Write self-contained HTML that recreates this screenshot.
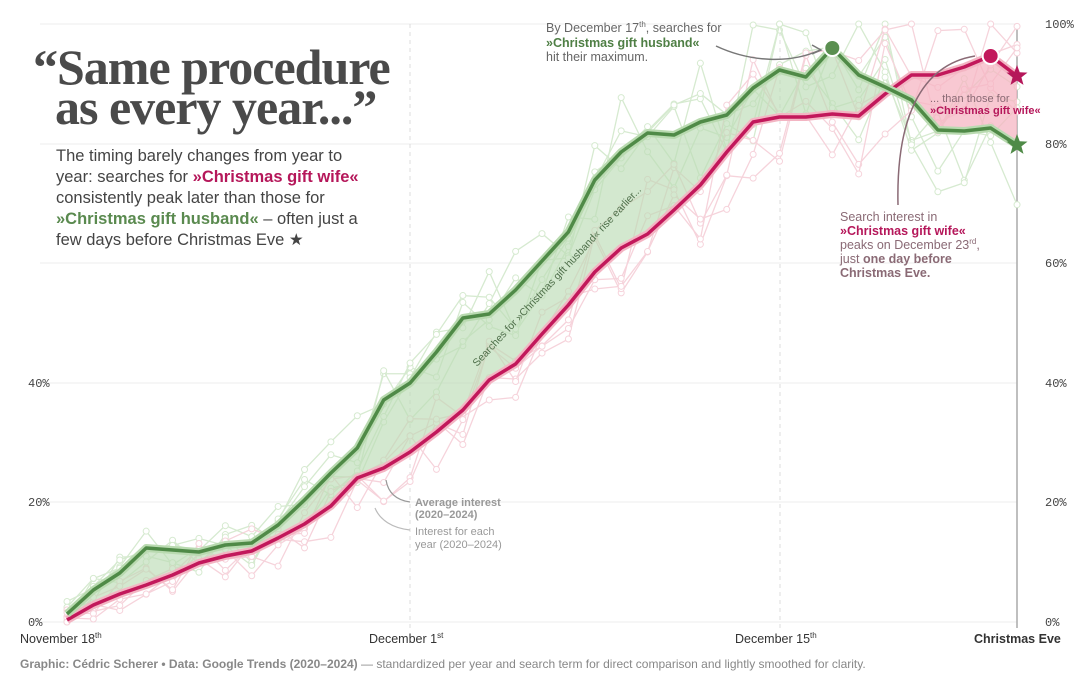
<!DOCTYPE html>
<html><head><meta charset="utf-8"><style>
body{margin:0;background:#fff;}
svg text{font-family:"Liberation Sans",sans-serif;}
</style></head><body>
<svg id="s" width="1080" height="683" viewBox="0 0 1080 683" xmlns="http://www.w3.org/2000/svg">
<rect width="1080" height="683" fill="#fff"/>
<g stroke="#ececec" stroke-width="1">
<line x1="40" x2="1017" y1="24" y2="24"/><line x1="40" x2="1017" y1="144" y2="144"/><line x1="40" x2="1017" y1="263" y2="263"/><line x1="40" x2="1017" y1="383" y2="383"/><line x1="40" x2="1017" y1="502" y2="502"/><line x1="40" x2="1017" y1="622" y2="622"/>
</g>
<g stroke="#ddd" stroke-dasharray="4 4"><line x1="410" x2="410" y1="24" y2="628"/><line x1="780" x2="780" y1="24" y2="628"/></g>
<line x1="1017" x2="1017" y1="24" y2="628" stroke="#aaa" stroke-width="1.5"/>
<g id="bg"></g>
<g id="fill"></g>
<g id="lines"></g>
<g font-size="12" fill="#444">
<text x="1045" y="28" style="font-family:'Liberation Mono',monospace">100%</text>
<text x="1045" y="148" style="font-family:'Liberation Mono',monospace">80%</text>
<text x="1045" y="267" style="font-family:'Liberation Mono',monospace">60%</text>
<text x="1045" y="387" style="font-family:'Liberation Mono',monospace">40%</text>
<text x="1045" y="506" style="font-family:'Liberation Mono',monospace">20%</text>
<text x="1045" y="626" style="font-family:'Liberation Mono',monospace">0%</text>
<text x="28" y="387" style="font-family:'Liberation Mono',monospace">40%</text>
<text x="28" y="506" style="font-family:'Liberation Mono',monospace">20%</text>
<text x="28" y="626" style="font-family:'Liberation Mono',monospace">0%</text>
</g>
<g font-size="12.5" fill="#333">
<text x="20" y="643">November 18<tspan font-size="8" dy="-5">th</tspan></text>
<text x="369" y="643">December 1<tspan font-size="8" dy="-5">st</tspan></text>
<text x="735" y="643">December 15<tspan font-size="8" dy="-5">th</tspan></text>
<text x="974" y="643" font-weight="bold">Christmas Eve</text>
</g>
<text x="20" y="668" font-size="12" fill="#888"><tspan font-weight="bold">Graphic: Cédric Scherer  •  Data: Google Trends (2020–2024)</tspan> — standardized per year and search term for direct comparison and lightly smoothed for clarity.</text>
<text x="33" y="84" font-size="50" font-weight="bold" fill="#4a4a4a" style="font-family:'Liberation Serif',serif;letter-spacing:-1px">“Same procedure</text>
<text x="55" y="124" font-size="50" font-weight="bold" fill="#4a4a4a" style="font-family:'Liberation Serif',serif;letter-spacing:-1px">as every year...”</text>
<g font-size="16.5" fill="#444">
<text x="56" y="161">The timing barely changes from year to</text>
<text x="56" y="182">year: searches for <tspan fill="#b5175a" font-weight="bold">»Christmas gift wife«</tspan></text>
<text x="56" y="203">consistently peak later than those for</text>
<text x="56" y="224"><tspan fill="#5a8a4f" font-weight="bold">»Christmas gift husband«</tspan> – often just a</text>
<text x="56" y="245">few days before Christmas Eve ★</text>
</g>
<g font-size="12.5" fill="#666">
<text x="546" y="32">By December 17<tspan font-size="8" dy="-5">th</tspan><tspan dy="5">, searches for</tspan></text>
<text x="546" y="47" fill="#4f7f45" font-weight="bold">»Christmas gift husband«</text>
<text x="546" y="61">hit their maximum.</text>
</g>
<path d="M716 46 C750 62 790 64 820 50" fill="none" stroke="#777" stroke-width="1.5"/>
<path d="M812 45 L821 50 L812 54" fill="none" stroke="#777" stroke-width="1.5"/>
<path d="M898 205 C896 120 920 65 975 56" fill="none" stroke="#8a6a75" stroke-width="1.5"/>
<g font-size="11" fill="#8a6a75"><text x="930" y="102">... than those for</text><text x="930" y="114" fill="#b5175a" font-weight="bold">»Christmas gift wife«</text></g>
<g font-size="12.5" fill="#8a6a75">
<text x="840" y="221">Search interest in</text>
<text x="840" y="235" fill="#b5175a" font-weight="bold">»Christmas gift wife«</text>
<text x="840" y="249">peaks on December 23<tspan font-size="8" dy="-5">rd</tspan><tspan dy="5">,</tspan></text>
<text x="840" y="263">just <tspan font-weight="bold">one day before</tspan></text>
<text x="840" y="277" font-weight="bold">Christmas Eve.</text>
</g>
<g font-size="11" fill="#999">
<text x="415" y="506" font-weight="bold">Average interest</text><text x="415" y="518" font-weight="bold">(2020–2024)</text>
<text x="415" y="535">Interest for each</text><text x="415" y="548">year (2020–2024)</text>
</g>
<path d="M410 502 C395 500 388 492 386 480" fill="none" stroke="#999" stroke-width="1.2"/>
<path d="M410 530 C392 528 380 520 375 508" fill="none" stroke="#bbb" stroke-width="1.2"/>
<text transform="translate(477,367) rotate(-47)" font-size="10.5" fill="#4f6f4a">Searches for »Christmas gift husband« rise earlier...</text>
</svg>
<script>
var G=[614,590,573,548,550,552,545,543,525,500,473,448,400,383,352,318,314,290,261,232,180,152,133,135,122,115,88,70,77,48,75,87,100,130,131,128,145];
var R=[620,605,594,585,575,563,556,551,538,524,506,478,468,452,432,410,380,364,334,305,272,248,234,210,185,152,122,117,117,114,116,94,75,75,67,56,76];
var X=i=>67+26.39*i, NS="http://www.w3.org/2000/svg";
function el(t,a,p){var e=document.createElementNS(NS,t);for(var k in a)e.setAttribute(k,a[k]);document.getElementById(p).appendChild(e);return e;}
function pts(A){return A.map((y,i)=>X(i).toFixed(1)+","+y).join(" ");}
var seed=11;function rnd(){seed=(seed*16807)%2147483647;return seed/2147483647;}
[[G,"#d6ead0"],[R,"#f6d3db"]].forEach(function(c){for(var k=0;k<5;k++){var A=c[0].map((y,i)=>{var v=y+(rnd()-0.5)*Math.min(130,25+i*4);return Math.max(24,Math.min(622,v));});
el("polyline",{points:pts(A),fill:"none",stroke:c[1],"stroke-width":1.3},"bg");
A.forEach((y,i)=>el("circle",{cx:X(i),cy:y,r:3,fill:"#fff",stroke:c[1],"stroke-width":1},"bg"));}});
var poly=pts(G)+" "+R.map((y,i)=>X(i).toFixed(1)+","+y).reverse().join(" ");
el("clipPath",{id:"c1"},"fill");el("rect",{x:0,y:0,width:897,height:683},"c1");
el("clipPath",{id:"c2"},"fill");el("rect",{x:897,y:0,width:200,height:683},"c2");
el("polygon",{points:poly,fill:"#bcdcb5","fill-opacity":0.65,"clip-path":"url(#c1)"},"fill");
el("polygon",{points:poly,fill:"#f6b6c3","fill-opacity":0.75,"clip-path":"url(#c2)"},"fill");
el("polyline",{points:pts(R),fill:"none",stroke:"#f3b5c3","stroke-width":8,"stroke-linejoin":"round"},"lines");
el("polyline",{points:pts(R),fill:"none",stroke:"#c2185b","stroke-width":3.5,"stroke-linejoin":"round"},"lines");
el("polyline",{points:pts(G),fill:"none",stroke:"#b9dab0","stroke-width":8,"stroke-linejoin":"round"},"lines");
el("polyline",{points:pts(G),fill:"none",stroke:"#4f8a47","stroke-width":3.5,"stroke-linejoin":"round"},"lines");
el("circle",{cx:X(29),cy:48,r:8,fill:"#5a8f50",stroke:"#fff","stroke-width":2},"lines");
el("circle",{cx:X(35),cy:56,r:8,fill:"#c2185b",stroke:"#fff","stroke-width":2},"lines");
function star(cx,cy,r,f){var p=[];for(var i=0;i<10;i++){var a=-Math.PI/2+i*Math.PI/5,rr=i%2?r*0.42:r;p.push((cx+rr*Math.cos(a)).toFixed(1)+","+(cy+rr*Math.sin(a)).toFixed(1));}el("polygon",{points:p.join(" "),fill:f},"lines");}
star(1017,76,11,"#b5175a");star(1017,145,11,"#4f8a47");
</script>
</body></html>
